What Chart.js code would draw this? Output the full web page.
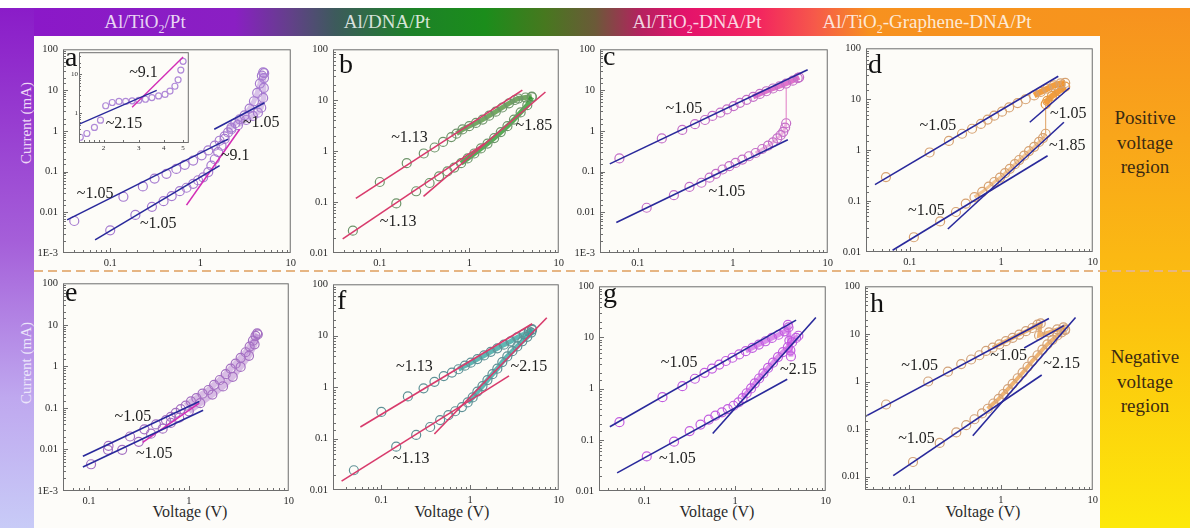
<!DOCTYPE html>
<html>
<head>
<meta charset="utf-8">
<title>Log-log I-V fits</title>
<script src="https://cdn.jsdelivr.net/npm/chart.js@4.4.1/dist/chart.umd.min.js"></script>
<style>
  html, body { margin: 0; padding: 0; background: #fff; }
  #fig { position: relative; width: 1190px; height: 528px; overflow: hidden; background: #fdfcf9;
         font-family: "Liberation Serif", "Times New Roman", serif; }
  .blk { position: absolute; }
  #topWhite { left: 0; top: 0; width: 1190px; height: 8px; background: #fff; }
  #topBand { left: 0; top: 8px; width: 1190px; height: 28px;
    background: linear-gradient(to right, #8b17c9 0px, #8a1fc3 235px, #63408a 290px, #3d5a5c 335px,
      #1d8128 410px, #1b8d1b 485px, #47781f 545px, #6b5a38 595px, #b4225f 640px, #e3126b 685px,
      #f3265f 760px, #f6594a 815px, #f7911f 870px, #f7961c 1190px); }
  #leftBand { left: 0; top: 8px; width: 34px; height: 520px;
    background: linear-gradient(to bottom, #8a1cc8 0%, #a55fd9 45%, #bfa8ef 75%, #c8cbf7 100%); }
  #rightBand { left: 1100px; top: 8px; width: 90px; height: 520px;
    background: linear-gradient(to bottom, #f7921e 0%, #f9a61a 25%, #fcc20f 60%, #fde90a 100%); }
  #dash { left: 34px; top: 270px; width: 1156px; height: 2px;
    background: repeating-linear-gradient(to right, #e6b583 0 9px, rgba(0,0,0,0) 9px 14px); }
  .head { position: absolute; top: 11px; font-size: 19px; line-height: 21px; color: rgba(255,255,255,0.82);
          transform: translateX(-50%); white-space: nowrap; }
  .head sub { font-size: 12px; line-height: 0; }
  .side { position: absolute; left: 1145px; transform: translateX(-50%); text-align: center;
          font-size: 19px; line-height: 24.5px; color: #3a2a12; white-space: nowrap; }
  .ylab { position: absolute; left: 26px; font-size: 15px; line-height: 16px; white-space: nowrap;
          transform: translate(-50%, -50%) rotate(-90deg); }
  .xlab { position: absolute; top: 502px; font-size: 16px; line-height: 20px; color: #2a2a2a;
          transform: translateX(-50%); white-space: nowrap; }
  canvas { position: absolute; }
</style>
</head>
<body>
<div id="fig">
  <div class="blk" id="topWhite"></div>
  <div class="blk" id="topBand"></div>
  <div class="blk" id="leftBand"></div>
  <div class="blk" id="rightBand"></div>
  <div class="blk" id="dash"></div>

  <div class="head" style="left:145px">Al/TiO<sub>2</sub>/Pt</div>
  <div class="head" style="left:387px">Al/DNA/Pt</div>
  <div class="head" style="left:697px">Al/TiO<sub>2</sub>-DNA/Pt</div>
  <div class="head" style="left:927px">Al/TiO<sub>2</sub>-Graphene-DNA/Pt</div>

  <div class="side" style="top:106px">Positive<br>voltage<br>region</div>
  <div class="side" style="top:345px">Negative<br>voltage<br>region</div>

  <div class="ylab" style="top:123px;color:#efd9f7">Current (mA)</div>
  <div class="ylab" style="top:363px;color:#ece6fb">Current (mA)</div>

  <div class="xlab" style="left:190px">Voltage (V)</div>
  <div class="xlab" style="left:452px">Voltage (V)</div>
  <div class="xlab" style="left:717px">Voltage (V)</div>
  <div class="xlab" style="left:983px">Voltage (V)</div>
</div>

<script>
// values: [voltage (V), current (mA)]

// a : Al/TiO2/Pt, positive
const aSweep1 = [[0.1,0.0036],[0.19,0.0086],[0.29,0.0136],[0.39,0.0187],[0.48,0.025],[0.59,0.033],[0.70,0.040],
  [0.83,0.050],[0.94,0.061],[1.07,0.072],[1.22,0.097],[1.32,0.14],[1.44,0.20],[1.57,0.30],[1.71,0.43],[1.85,0.63],
  [2.02,0.91],[2.2,1.2],[2.43,1.53],[2.72,1.92],[3.08,2.4],[3.5,3.5],[3.91,5.3],[4.25,8.5],[4.55,14.4],[4.79,22.5],[4.95,27]];
const aSweep2 = [[0.04,0.0061],[0.14,0.024],[0.23,0.043],[0.31,0.067],[0.42,0.088],[0.54,0.116],[0.67,0.146],
  [0.83,0.186],[1.03,0.25],[1.22,0.33],[1.44,0.43],[1.63,0.57],[1.85,0.73],[2.2,1.09],[2.6,1.37],[3.21,1.84],
  [3.81,2.31],[4.33,2.78],[4.71,3.7],[4.95,6.4],[5.03,11.3],[5.05,19.7],[5.08,26]];
const aFits = [[[0.0333,0.0065],[2.02,0.625]], [[0.068,0.0021],[1.63,0.14]], [[0.70,0.015],[2.72,1.09]], [[1.42,1.09],[5.13,4.86]]];
const aNotes = [['~1.05',0.068,0.0288], ['~1.05',0.341,0.00507], ['~9.1',2.43,0.237], ['~1.05',4.71,1.59]];

// a inset
const insetPts = [[1.53,0.24],[1.65,0.30],[1.8,0.43],[1.93,0.66],[2.05,1.55],[2.21,1.88],[2.39,2.0],[2.58,2.0],
  [2.78,2.07],[3.0,2.15],[3.24,2.28],[3.49,2.51],[3.77,2.77],[4.06,3.04],[4.3,3.69],[4.55,4.92],[4.72,7.2],[4.87,12.8],[5.0,21.5]];
const insetFits = [[[1.51,0.52],[3.69,3.83]], [[2.78,1.41],[5.0,27.7]]];
const insetNotes = [['~9.1',3.17,10.6], ['~2.15',2.53,0.54]];

// b : Al/DNA/Pt, positive
const bSweep1 = [[0.05,0.0275],[0.153,0.094],[0.255,0.163],[0.36,0.237],[0.46,0.32],[0.57,0.40],[0.68,0.475],
  [0.81,0.58],[0.96,0.72],[1.14,0.90],[1.35,1.13],[1.6,1.41],[1.9,1.81],[2.25,2.37],[2.67,3.09],[3.16,4.16],
  [3.75,5.77],[4.45,8.0],[5.0,11.5]];
const bSweep2 = [[0.1,0.248],[0.2,0.58],[0.31,0.90],[0.41,1.18],[0.51,1.52],[0.63,1.89],[0.72,2.2],[0.84,2.67],
  [1.0,3.1],[1.19,3.59],[1.41,4.16],[1.67,4.97],[1.98,5.95],[2.34,7.2],[2.78,8.7],[3.24,10.1],[3.53,10.8],[4.25,11.3],[5.0,11.8]];
const bFits = [[[0.054,0.118],[3.92,15.8]], [[0.0385,0.0189],[1.47,1.41]], [[0.308,0.13],[7.1,14.5]]];
const bNotes = [['~1.13',0.215,1.81], ['~1.13',0.16,0.0416], ['~1.85',5.27,3.18]];

// c : Al/TiO2-DNA/Pt, positive
const cSweep1 = [[0.064,0.21],[0.179,0.65],[0.294,1.05],[0.40,1.45],[0.51,1.84],[0.61,2.31],[0.74,2.78],[0.87,3.35],
  [1.02,4.03],[1.19,4.86],[1.40,5.75],[1.64,6.8],[1.93,8.05],[2.26,9.35],[2.65,10.9],[3.11,12.4],[3.65,14.4],
  [4.29,17.0],[4.83,19.7],[5.0,20.5]];
const cSweep2 = [[0.124,0.0129],[0.24,0.0262],[0.35,0.0418],[0.468,0.053],[0.57,0.0705],[0.665,0.088],[0.78,0.112],
  [0.92,0.135],[1.07,0.163],[1.26,0.196],[1.48,0.237],[1.74,0.285],[2.04,0.357],[2.35,0.43],[2.65,0.52],[2.94,0.65],
  [3.19,0.78],[3.40,0.94],[3.56,1.2],[3.65,1.53]];
const cJump = [[3.65,1.53],[3.65,11]];
const cFits = [[[0.0507,0.154],[6.14,31.5]], [[0.0594,0.0056],[3.80,0.6]]];
const cNotes = [['~1.05',0.306,3.47], ['~1.05',0.866,0.0327]];

// d : Al/TiO2-Graphene-DNA/Pt, positive
const dSweep1 = [[0.055,0.296],[0.165,0.90],[0.268,1.52],[0.373,2.1],[0.48,2.63],[0.60,3.28],[0.71,3.98],[0.84,4.76],
  [1.02,5.69],[1.22,6.9],[1.51,8.4],[1.85,10],[2.29,11.9],[2.70,13.9],[3.19,16.1],[3.77,18.7],[4.45,20.4],[5.0,20.9]];
const dSweep2 = [[0.111,0.0195],[0.215,0.0398],[0.32,0.061],[0.41,0.089],[0.51,0.12],[0.62,0.152],[0.73,0.192],
  [0.84,0.237],[0.97,0.29],[1.10,0.353],[1.24,0.43],[1.41,0.53],[1.57,0.64],[1.78,0.78],[2.01,0.96],[2.29,1.16],
  [2.59,1.45],[2.86,1.73],[3.06,2.1]];
const dSweep3 = [[3.06,8.0],[3.19,9.3],[3.59,11.6],[4.27,14.5],[5.0,17.6]];
const dJump = [[3.06,2.1],[3.06,8.0]];
const dFits = [[[0.0417,0.21],[4.2,28.3]], [[2.05,3.53],[5.57,16.8]], [[0.261,0.0283],[4.84,3.53]], [[0.065,0.0108],[3.21,0.776]]];
const dNotes = [['~1.05',0.203,2.96], ['~1.05',5.4,5.28], ['~1.85',5.27,1.21], ['~1.05',0.152,0.064]];

// e : Al/TiO2/Pt, negative
const eSweep1 = [[0.157,0.0122],[0.258,0.0205],[0.359,0.0305],[0.469,0.040],[0.59,0.051],[0.66,0.061],[0.74,0.076],
  [0.83,0.094],[0.93,0.113],[1.05,0.143],[1.19,0.172],[1.37,0.22],[1.57,0.27],[1.79,0.36],[2.04,0.47],[2.34,0.65],
  [2.62,0.88],[2.94,1.16],[3.3,1.61],[3.7,2.19],[4.06,3.0],[4.38,4.15],[4.65,5.45],[4.83,6.2]];
const eSweep2 = [[0.105,0.0044],[0.155,0.0098],[0.215,0.0098],[0.315,0.0153],[0.418,0.024],[0.547,0.0317],[0.66,0.0435],
  [0.8,0.058],[1.0,0.083],[1.3,0.13],[1.72,0.21],[2.2,0.33],[2.75,0.56],[3.3,0.97],[4.0,1.8],[4.55,3.4],[4.9,5.9]];
const eFits = [[[0.087,0.00687],[1.27,0.143]], [[0.087,0.00378],[1.39,0.0877]], [[0.345,0.0148],[1.27,0.131]]];
const eNotes = [['~1.05',0.275,0.061], ['~1.05',0.451,0.0078]];

// f : Al/DNA/Pt, negative
const fSweep1 = [[0.049,0.0242],[0.147,0.0695],[0.247,0.118],[0.355,0.168],[0.46,0.229],[0.57,0.285],[0.68,0.34],
  [0.81,0.41],[0.94,0.505],[1.07,0.63],[1.21,0.82],[1.38,1.05],[1.57,1.37],[1.79,1.79],[2.03,2.29],[2.31,3.07],
  [2.63,3.95],[3.0,5.0],[3.41,6.2],[3.88,7.8],[4.42,9.5],[4.9,11.5],[5.0,13.4]];
const fSweep2 = [[0.1,0.33],[0.199,0.66],[0.299,0.95],[0.397,1.27],[0.505,1.64],[0.625,1.92],[0.74,2.23],[0.875,2.62],
  [1.02,2.99],[1.21,3.51],[1.44,4.13],[1.71,4.86],[2.03,5.7],[2.41,6.7],[2.87,7.76],[3.41,9.27],[4.05,10.7],[4.61,12.1],[5.0,13.0]];
const fFits = [[[0.058,0.168],[5.02,17.1]], [[0.0356,0.0149],[2.75,1.66]], [[0.396,0.123],[7.33,22.3]]];
const fNotes = [['~1.13',0.236,2.54], ['~1.13',0.217,0.0404], ['~2.15',4.6,2.47]];

// g : Al/TiO2-DNA/Pt, negative
const gSweep1 = [[0.053,0.221],[0.158,0.68],[0.262,1.12],[0.36,1.56],[0.46,2.04],[0.556,2.47],[0.668,2.95],[0.79,3.47],
  [0.935,4.02],[1.11,4.66],[1.31,5.41],[1.55,6.27],[1.83,7.27],[2.16,8.43],[2.55,9.78],[3.02,11.3],[3.51,13.2],
  [3.88,15.7],[3.83,17.7],[3.97,8.7],[4.07,5.57],[4.13,4.27]];
const gSweep2 = [[0.106,0.0473],[0.212,0.092],[0.315,0.148],[0.415,0.199],[0.512,0.249],[0.605,0.297],[0.716,0.344],
  [0.83,0.399],[0.96,0.463],[1.09,0.537],[1.21,0.652],[1.34,0.813],[1.5,1.01],[1.65,1.27],[1.84,1.58],[2.05,1.98],
  [2.31,2.54],[2.62,3.22],[2.97,4.14],[3.37,5.18],[3.82,6.46],[4.26,8.07],[4.71,9.78],[4.99,10.8]];
const gFits = [[[0.0415,0.18],[4.71,21.8]], [[0.0499,0.0226],[3.76,1.53]], [[0.566,0.133],[7.78,24.5]]];
const gNotes = [['~1.05',0.241,3.18], ['~1.05',0.231,0.0434], ['~2.15',4.99,2.36]];

// h : Al/TiO2-Graphene-DNA/Pt, negative
const hSweep1 = [[0.056,0.329],[0.161,1.0],[0.264,1.61],[0.369,2.32],[0.473,2.9],[0.582,3.56],[0.688,4.38],[0.813,5.13],
  [0.96,6.01],[1.13,7.05],[1.34,8.26],[1.58,9.68],[1.87,11.4],[2.2,13.3],[2.5,15.6],[2.71,16.6],[2.6,9.25],[3.33,10.8],
  [4.1,12.5],[4.8,13.7],[5.0,12.5]];
const hSweep2 = [[0.11,0.0204],[0.215,0.0513],[0.326,0.0853],[0.418,0.121],[0.514,0.161],[0.622,0.214],[0.718,0.268],
  [0.826,0.345],[0.944,0.431],[1.06,0.547],[1.19,0.694],[1.34,0.895],[1.52,1.17],[1.72,1.53],[1.95,2.04],[2.2,2.72],
  [2.5,3.56],[2.83,4.67],[3.2,6.01],[3.63,7.5],[4.11,9.25],[4.58,10.8],[5.0,12.0]];
const hFits = [[[0.033,0.183],[3.33,21.1]], [[1.79,5.05],[4.85,14.9]], [[0.493,0.0728],[6.49,22.1]], [[0.067,0.0105],[2.78,1.37]]];
const hNotes = [['~1.05',0.13,2.11], ['~1.05',1.21,3.4], ['~2.15',4.58,2.32], ['~1.05',0.12,0.062]];

// ---- styling / layout ----
const BLUE = '#29299b', MAGENTA = '#d22db6', CRIMSON = '#d83b6c';
const SERIF = '"Liberation Serif", "Times New Roman", serif';
const NONE = 'rgba(0,0,0,0)';

const panels = [
  { rect: [63, 46, 292, 253], x: [0.03, 10], y: [0.001, 100], letter: 'a', lx: 2, ly: 17,
    fits: aFits, fitColors: [BLUE, BLUE, MAGENTA, BLUE], notes: aNotes,
    series: [{ pts: aSweep1, ring: '#a67bd0', band: 'rgba(172,124,216,0.45)', bw: 5, from: 1.9 },
             { pts: aSweep2, ring: '#a67bd0', band: 'rgba(172,124,216,0.45)', bw: 5, from: 2.5 }] },
  { rect: [333, 46, 560, 253], x: [0.03, 10], y: [0.01, 100], letter: 'b', lx: 6, ly: 24,
    fits: bFits, fitColors: [CRIMSON, CRIMSON, CRIMSON], notes: bNotes,
    series: [{ pts: bSweep1, ring: '#6f956b', band: 'rgba(46,150,46,0.8)', bw: 5, from: 0.75 },
             { pts: bSweep2, ring: '#6f956b', band: 'rgba(70,140,50,0.75)', bw: 5, from: 0.7 }] },
  { rect: [600, 46, 829, 253], x: [0.04, 10], y: [0.001, 100], letter: 'c', lx: 3, ly: 16,
    fits: cFits, fitColors: [BLUE, BLUE], notes: cNotes, jump: [cJump, '#e07cc4'],
    series: [{ pts: cSweep1, ring: '#c46fc8', band: 'rgba(214,70,190,0.75)', bw: 5, from: 1.5 },
             { pts: cSweep2, ring: '#c46fc8', band: 'rgba(214,90,190,0.45)', bw: 3, from: 1.5 }] },
  { rect: [866, 45, 1094, 252], x: [0.0333, 10], y: [0.01, 100], letter: 'd', lx: 2, ly: 25,
    fits: dFits, fitColors: [BLUE, BLUE, BLUE, BLUE], notes: dNotes, jump: [dJump, '#e0a060'],
    series: [{ pts: dSweep1, ring: '#d6a272', band: 'rgba(240,146,42,0.9)', bw: 6, from: 2.2 },
             { pts: dSweep2, ring: '#d6a272', band: 'rgba(236,160,80,0.6)', bw: 3, from: 0.5 },
             { pts: dSweep3, ring: '#e69a44', band: 'rgba(240,146,42,0.9)', bw: 6, from: 3.0 }] },
  { rect: [63, 280, 290, 491], x: [0.055, 10], y: [0.001, 100], letter: 'e', lx: 2, ly: 18,
    fits: eFits, fitColors: [BLUE, BLUE, MAGENTA], notes: eNotes,
    series: [{ pts: eSweep1, ring: '#a470c2', band: 'rgba(170,110,205,0.45)', bw: 6, from: 0.9 },
             { pts: eSweep2, ring: '#a470c2', band: 'rgba(170,110,205,0.45)', bw: 6, from: 0.9 }] },
  { rect: [333, 281, 560, 490], x: [0.0285, 10], y: [0.01, 100], letter: 'f', lx: 4, ly: 25,
    fits: fFits, fitColors: [CRIMSON, CRIMSON, CRIMSON], notes: fNotes,
    series: [{ pts: fSweep1, ring: '#5f9196', band: 'rgba(42,160,156,0.75)', bw: 5, from: 0.9 },
             { pts: fSweep2, ring: '#5f9196', band: 'rgba(42,160,156,0.75)', bw: 5, from: 0.7 }] },
  { rect: [599, 283, 827, 491], x: [0.0315, 10], y: [0.01, 100], letter: 'g', lx: 4, ly: 16,
    fits: gFits, fitColors: [BLUE, BLUE, BLUE], notes: gNotes,
    series: [{ pts: gSweep1, ring: '#c25ee0', band: 'rgba(196,70,226,0.6)', bw: 5, from: 1.2 },
             { pts: gSweep2, ring: '#c25ee0', band: 'rgba(196,70,226,0.6)', bw: 5, from: 1.2 }] },
  { rect: [865, 283, 1094, 490], x: [0.033, 10], y: [0.00526, 100], letter: 'h', lx: 5, ly: 26,
    fits: hFits, fitColors: [BLUE, BLUE, BLUE, BLUE], notes: hNotes,
    series: [{ pts: hSweep1, ring: '#d2a27a', band: 'rgba(232,150,58,0.7)', bw: 4, from: 0.7 },
             { pts: hSweep2, ring: '#d2a27a', band: 'rgba(232,150,58,0.7)', bw: 4, from: 0.7 }] }
];

const inset = { rect: [79, 50, 191, 143], x: [1.507, 5.34], y: [0.171, 36.9], inset: true,
  fits: insetFits, fitColors: [BLUE, MAGENTA], notes: insetNotes,
  series: [{ pts: insetPts, ring: '#b08ad8', radius: 3 }] };

function isDecade(v) {
  const l = Math.log10(v);
  return Math.abs(l - Math.round(l)) < 1e-6;
}

function decadeLabel(v) {
  if (!isDecade(v)) return '';
  if (v >= 1) return String(Math.round(v));
  if (v >= 0.01) return String(+v.toPrecision(1));
  return '1E' + Math.round(Math.log10(v));
}

function toXY(pts) {
  return pts.map(([x, y]) => ({ x, y }));
}

function framePlugin(p) {
  return {
    id: 'frame',
    beforeDatasetsDraw(chart) {
      const { ctx, chartArea: a } = chart;
      ctx.save();
      ctx.fillStyle = '#fdfcf8';
      ctx.fillRect(a.left, a.top, a.right - a.left, a.bottom - a.top);
      ctx.restore();
    },
    afterDraw(chart) {
      const { ctx, chartArea: a, scales } = chart;
      const big = p.inset ? 3 : 5;
      ctx.save();
      ctx.strokeStyle = '#6e6e6e';
      ctx.lineWidth = 1;
      ctx.strokeRect(a.left + 0.5, a.top + 0.5, a.right - a.left - 1, a.bottom - a.top - 1);
      ctx.beginPath();
      scales.x.ticks.forEach(t => {
        const px = Math.round(scales.x.getPixelForValue(t.value)) + 0.5;
        if (px < a.left + 1 || px > a.right - 1) return;
        const len = (p.inset || isDecade(t.value)) ? big : 3;
        ctx.moveTo(px, a.bottom);
        ctx.lineTo(px, a.bottom - len);
      });
      scales.y.ticks.forEach(t => {
        const py = Math.round(scales.y.getPixelForValue(t.value)) + 0.5;
        if (py < a.top + 1 || py > a.bottom - 1) return;
        const len = isDecade(t.value) ? big : (p.inset ? 2 : 3);
        ctx.moveTo(a.left, py);
        ctx.lineTo(a.left + len, py);
      });
      ctx.stroke();

      if (p.letter) {
        ctx.fillStyle = '#111';
        ctx.font = '28px ' + SERIF;
        ctx.textAlign = 'left';
        ctx.textBaseline = 'alphabetic';
        ctx.fillText(p.letter, a.left + p.lx, a.top + p.ly);
      }
      ctx.fillStyle = '#1e1e1e';
      ctx.font = '16px ' + SERIF;
      ctx.textAlign = 'center';
      ctx.textBaseline = 'middle';
      p.notes.forEach(([txt, v, i]) => {
        ctx.fillText(txt, scales.x.getPixelForValue(v), scales.y.getPixelForValue(i));
      });
      ctx.restore();
    }
  };
}

function buildPanel(p) {
  const pad = p.inset ? { l: 12, t: 3, r: 3, b: 9 } : { l: 36, t: 8, r: 8, b: 18 };
  const [L, T, R, B] = p.rect;
  const w = R - L + pad.l + pad.r, h = B - T + pad.t + pad.b;
  const cv = document.createElement('canvas');
  cv.width = w;
  cv.height = h;
  cv.style.left = (L - pad.l) + 'px';
  cv.style.top = (T - pad.t) + 'px';
  cv.style.width = w + 'px';
  cv.style.height = h + 'px';
  document.getElementById('fig').appendChild(cv);

  const datasets = [];
  p.fits.forEach((seg, k) => {
    datasets.push({ data: toXY(seg), showLine: true, borderColor: p.fitColors[k],
      borderWidth: p.inset ? 1.4 : 1.6, pointRadius: 0 });
  });
  if (p.jump) {
    datasets.push({ data: toXY(p.jump[0]), showLine: true, borderColor: p.jump[1], borderWidth: 1, pointRadius: 0 });
  }
  p.series.forEach(s => {
    const from = s.from !== undefined ? s.from : Infinity;
    datasets.push({
      data: toXY(s.pts),
      showLine: !!s.band,
      borderColor: s.band || NONE,
      borderWidth: s.bw || 0,
      segment: { borderColor: c => (c.p0.parsed.x >= from && c.p1.parsed.x >= from) ? s.band : NONE },
      pointRadius: s.radius || 4.5,
      pointBorderWidth: 1.2,
      pointBorderColor: s.ring,
      pointBackgroundColor: NONE
    });
  });

  const tickFont = { family: SERIF, size: p.inset ? 7 : 10.5 };
  const xLabel = p.inset
    ? v => (Math.abs(v - Math.round(v)) < 1e-9 && v >= 2 ? String(Math.round(v)) : '')
    : v => decadeLabel(v);

  new Chart(cv, {
    type: 'scatter',
    data: { datasets },
    options: {
      responsive: false,
      animation: false,
      events: [],
      layout: { padding: { left: 0, top: pad.t, right: pad.r, bottom: 0 } },
      plugins: { legend: { display: false }, tooltip: { enabled: false } },
      scales: {
        x: {
          type: 'logarithmic', min: p.x[0], max: p.x[1],
          grid: { display: false, drawTicks: false }, border: { display: false },
          ticks: { autoSkip: false, maxRotation: 0, font: tickFont, color: '#2a2a2a',
                   padding: p.inset ? 1 : 4, callback: xLabel },
          afterFit: s => { s.height = pad.b; }
        },
        y: {
          type: 'logarithmic', min: p.y[0], max: p.y[1],
          grid: { display: false, drawTicks: false }, border: { display: false },
          ticks: { autoSkip: false, font: tickFont, color: '#2a2a2a', padding: p.inset ? 1 : 5,
                   callback: v => decadeLabel(v) },
          afterFit: s => { s.width = pad.l; }
        }
      }
    },
    plugins: [framePlugin(p)]
  });
}

panels.forEach(buildPanel);
buildPanel(inset);
</script>
</body>
</html>
